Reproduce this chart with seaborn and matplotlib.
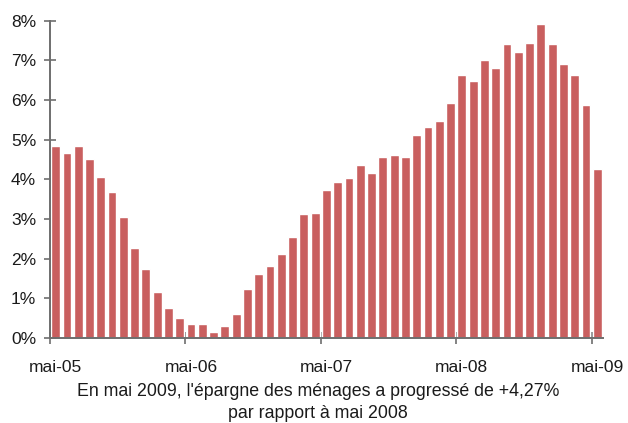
import matplotlib
matplotlib.use("Agg")
import matplotlib.pyplot as plt
import seaborn as sns
import pandas as pd

# Monthly labels, mai-05 .. mai-09 (49 months)
mois = ["janv", "févr", "mars", "avr", "mai", "juin",
        "juil", "août", "sept", "oct", "nov", "déc"]
months = []
for k in range(49):
    m = (4 + k) % 12
    y = 5 + (4 + k) // 12
    months.append(f"{mois[m]}-{y:02d}")

# Growth of household savings, year on year (%)
values = [4.83, 4.67, 4.83, 4.52, 4.06, 3.67, 3.04, 2.26, 1.73, 1.15,
          0.75, 0.51, 0.34, 0.34, 0.14, 0.31, 0.61, 1.24, 1.62, 1.82,
          2.12, 2.55, 3.13, 3.16, 3.74, 3.94, 4.04, 4.37, 4.16, 4.57,
          4.62, 4.57, 5.12, 5.32, 5.47, 5.93, 6.63, 6.48, 7.01, 6.81,
          7.41, 7.21, 7.44, 7.92, 7.41, 6.91, 6.63, 5.88, 4.27]

tick_labels = ["mai-05", "mai-06", "mai-07", "mai-08", "mai-09"]
y_ticks = [0, 1, 2, 3, 4, 5, 6, 7, 8]

df = pd.DataFrame({"mois": months, "epargne": values})

sns.set_theme(style="white")
plt.rcParams["font.family"] = ["Liberation Sans", "DejaVu Sans"]

fig = plt.figure(figsize=(6.28, 4.23), dpi=100)
ax = fig.add_axes([0.0796, 0.201, 0.8804, 0.7505])

sns.barplot(data=df, x="mois", y="epargne", color="#C95F5F",
            saturation=1, width=0.78, ax=ax)

ax.set_xlim(-0.5, 48.5)
ax.set_ylim(0, 8)
ax.set_xlabel("")
ax.set_ylabel("")

# tick marks at month boundaries, labels centred on the bars
idx = [months.index(t) for t in tick_labels]
ax.set_xticks([i - 0.5 for i in idx])
ax.set_xticklabels([])
ax.set_xticks(idx, minor=True)
ax.set_xticklabels(tick_labels, minor=True, fontsize=12.5, color="#1a1a1a")

ax.set_yticks(y_ticks)
ax.set_yticklabels([f"{v}%" for v in y_ticks], fontsize=12.5, color="#1a1a1a")

for side in ["top", "right"]:
    ax.spines[side].set_visible(False)
for side in ["left", "bottom"]:
    ax.spines[side].set_color("#6e6e6e")
    ax.spines[side].set_linewidth(1.4)

ax.tick_params(axis="both", which="major", direction="inout", length=8,
               width=1.2, color="#6e6e6e", bottom=True, left=True)
ax.tick_params(axis="x", which="minor", bottom=True, length=0, pad=16)
ax.tick_params(axis="y", pad=6)
ax.grid(False)

fig.text(0.506, 0.075, "En mai 2009, l'épargne des ménages a progressé de +4,27%",
         ha="center", va="center", fontsize=12.8, color="#1a1a1a")
fig.text(0.506, 0.022, "par rapport à mai 2008",
         ha="center", va="center", fontsize=12.8, color="#1a1a1a")

fig.savefig("out.png", dpi=100)
